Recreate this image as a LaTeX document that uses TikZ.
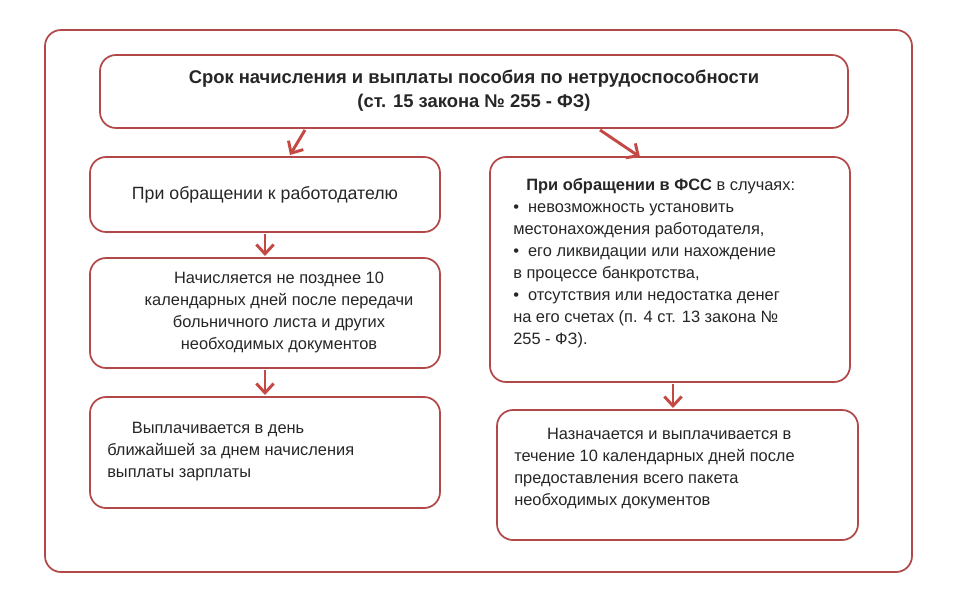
\documentclass[tikz,border=0pt]{standalone}
\usepackage{fontspec}
\setmainfont{Liberation Sans}
\usetikzlibrary{arrows.meta}
\begin{document}
\begin{tikzpicture}[x=0.75pt,y=-0.75pt,
  bx/.style={draw=boxred,line width=1.3pt,rounded corners=12pt,fill=white},
  ar/.style={draw=arred,line width=2.2pt,-{Straight Barb[length=7pt,width=13pt]}},
  tx/.style={font=\fontsize{12.3}{16.5}\selectfont,text=black!85,inner sep=0pt}]
\definecolor{boxred}{RGB}{178,72,72}
\definecolor{arred}{RGB}{196,72,68}
\useasboundingbox (0,0) rectangle (960,614);
\fill[white] (0,0) rectangle (960,614);
\draw[bx] (45,30) rectangle (912,572);
\draw[bx] (100,55) rectangle (848,128);
\draw[bx] (90,157) rectangle (440,232);
\draw[bx] (90,258) rectangle (440,368);
\draw[bx] (90,397) rectangle (440,508);
\draw[bx] (490,157) rectangle (850,382);
\draw[bx] (497,410) rectangle (858,540);
\node[tx,align=center,font=\bfseries\fontsize{13.8}{18}\selectfont] (t) at (474,91) {Срок начисления и выплаты пособия по нетрудоспособности\\(ст. 15 закона № 255 - ФЗ)};
\node[tx,font=\fontsize{13.3}{17}\selectfont] (l1) at (265,195) {При обращении к работодателю};
\node[tx,align=center] (l2) at (279,312) {Начисляется не позднее 10\\календарных дней после передачи\\больничного листа и других\\необходимых документов};
\node[tx,align=left,anchor=north west] (l3) at (107,422) {\hspace*{1.5em}Выплачивается в день\\ближайшей за днем начисления\\выплаты зарплаты};
\node[tx,align=left,anchor=north west] (r1) at (513,178) {\hspace*{0.8em}\textbf{При обращении в ФСС} в случаях:\\ \textbullet\ \ невозможность установить\\местонахождения работодателя,\\ \textbullet\ \ его ликвидации или нахождение\\в процессе банкротства,\\ \textbullet\ \ отсутствия или недостатка денег\\на его счетах (п. 4 ст. 13 закона №\\255 - ФЗ).};
\node[tx,align=left,anchor=north west] (r2) at (514,428) {\hspace*{2em}Назначается и выплачивается в\\течение 10 календарных дней после\\предоставления всего пакета\\необходимых документов};
\coordinate (a1) at (305,130); \coordinate (b1) at (290,155);
\coordinate (a2) at (600,130); \coordinate (b2) at (640,157);
\coordinate (a3) at (265,234); \coordinate (b3) at (265,256);
\coordinate (a4) at (265,370); \coordinate (b4) at (265,395);
\coordinate (a5) at (673,384); \coordinate (b5) at (673,408);
\foreach \i in {1,...,5} \draw[ar] (a\i) -- (b\i);
\end{tikzpicture}
\end{document}
